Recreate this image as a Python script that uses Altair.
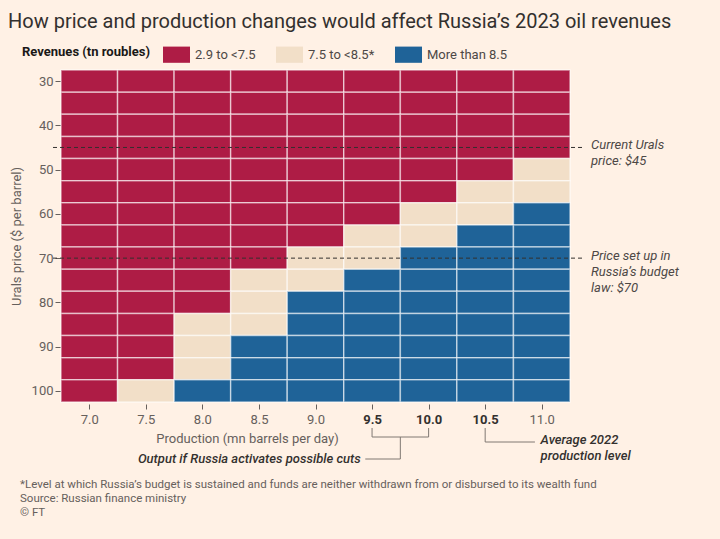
import altair as alt
import pandas as pd

# ---- data ----
productions = [7.0, 7.5, 8.0, 8.5, 9.0, 9.5, 10.0, 10.5, 11.0]
prices = [30, 35, 40, 45, 50, 55, 60, 65, 70, 75, 80, 85, 90, 95, 100]
# one string per price row, one char per production column
# R = 2.9 to <7.5, M = 7.5 to <8.5*, B = More than 8.5
grid = [
    "RRRRRRRRR",  # 30
    "RRRRRRRRR",  # 35
    "RRRRRRRRR",  # 40
    "RRRRRRRRR",  # 45
    "RRRRRRRRM",  # 50
    "RRRRRRRMM",  # 55
    "RRRRRRMMB",  # 60
    "RRRRRMMBB",  # 65
    "RRRRMMBBB",  # 70
    "RRRMMBBBB",  # 75
    "RRRMBBBBB",  # 80
    "RRMMBBBBB",  # 85
    "RRMBBBBBB",  # 90
    "RRMBBBBBB",  # 95
    "RMBBBBBBB",  # 100
]
categories = ["2.9 to <7.5", "7.5 to <8.5*", "More than 8.5"]
code_to_cat = {"R": categories[0], "M": categories[1], "B": categories[2]}
colors = ["#ae1c45", "#f2dfc8", "#1f6398"]

ref_prices = [45, 70]
ref_labels = ["Current Urals\nprice: $45", "Price set up in\nRussia\u2019s budget\nlaw: $70"]

footnotes = [
    "*Level at which Russia\u2019s budget is sustained and funds are neither withdrawn from or disbursed to its wealth fund",
    "Source: Russian finance ministry",
    "\u00a9 FT",
]

W, H = 509, 332
FONT = "Roboto"
GREY = "#66605c"
DARK = "#33302e"

rows = []
for pi, p in enumerate(prices):
    for xi, prod in enumerate(productions):
        rows.append({"production": prod, "price": p, "revenue": code_to_cat[grid[pi][xi]]})
df = pd.DataFrame(rows)

xscale = alt.Scale(domain=[6.75, 11.25], nice=False, zero=False)
yscale = alt.Scale(domain=[27.5, 102.5], nice=False, zero=False, reverse=True)

cells = alt.Chart(df).transform_calculate(
    x1="datum.production - 0.25", x2="datum.production + 0.25",
    y1="datum.price - 2.5", y2="datum.price + 2.5",
).mark_rect(stroke="white", strokeOpacity=0.55, strokeWidth=1.5).encode(
    x=alt.X("x1:Q", scale=xscale, axis=alt.Axis(
        values=productions, format=".1f", tickSize=5, offset=2, labelPadding=4,
        domain=False, grid=False, labelFontSize=13, labelFont=FONT,
        labelColor={"expr": "datum.value >= 9.4 && datum.value <= 10.6 ? '#33302e' : '#66605c'"},
        labelFontWeight={"expr": "datum.value >= 9.4 && datum.value <= 10.6 ? 'bold' : 'normal'"},
        tickColor=GREY, title="Production (mn barrels per day)", titleFont=FONT,
        titleFontSize=13, titleFontWeight="normal", titleColor=GREY,
        titleX=186, titleY=34, titleAlign="center", titleBaseline="middle")),
    x2="x2:Q",
    y=alt.Y("y1:Q", scale=yscale, axis=alt.Axis(
        values=[30, 40, 50, 60, 70, 80, 90, 100], tickSize=6, labelPadding=2,
        domain=False, grid=False, labelFontSize=13, labelFont=FONT, labelColor=GREY,
        tickColor=GREY, title="Urals price ($ per barrel)", titleFont=FONT,
        titleFontSize=13, titleFontWeight="normal", titleColor=GREY, titlePadding=8)),
    y2="y2:Q",
    color=alt.Color("revenue:N", scale=alt.Scale(domain=categories, range=colors),
                    legend=alt.Legend(
                        orient="none", legendX=-39, legendY=-29, direction="horizontal",
                        title="Revenues (tn roubles)", titleOrient="left",
                        titleFont=FONT, titleFontSize=13, titleFontWeight="bold",
                        titleColor="#1a1817", titlePadding=13, titleBaseline="middle",
                        labelFont=FONT, labelFontSize=13, labelColor="#4d4845",
                        labelOffset=5, columnPadding=20,
                        symbolType="M-1,-0.6H1V0.6H-1Z", symbolSize=729,
                        symbolStrokeWidth=0, symbolOpacity=1)),
)

ref_df = pd.DataFrame({"price": ref_prices, "label": ref_labels})
ref_rules = alt.Chart(ref_df).mark_rule(color=DARK, strokeDash=[4, 3], strokeWidth=1).encode(
    y=alt.Y("price:Q", scale=yscale), x=alt.value(-8), x2=alt.value(W + 15))
ref_text = alt.Chart(ref_df).mark_text(
    align="left", baseline="top", dy=-8, lineBreak="\n", lineHeight=16,
    font=FONT, fontSize=13, fontStyle="italic", color="#4d4845").encode(
    y=alt.Y("price:Q", scale=yscale), x=alt.value(W + 21), text="label:N")

# bracket annotations below the x axis (x in production units, y in pixels)
seg_x1 = [9.5, 10.0, 9.5, 9.75, 9.44, 10.5, 10.5]
seg_x2 = [9.5, 10.0, 10.0, 9.75, 9.75, 10.5, 10.94]
seg_y1 = [358, 358, 367, 367, 389, 358, 372]
seg_y2 = [367, 367, 367, 389, 389, 372, 372]
seg_df = pd.DataFrame({"x1": seg_x1, "x2": seg_x2, "y1": seg_y1, "y2": seg_y2})
brackets = alt.Chart(seg_df).mark_rule(color="#807973", strokeWidth=1).encode(
    x=alt.X("x1:Q", scale=xscale), x2="x2:Q",
    y=alt.Y("y1:Q", scale=None), y2="y2:Q")

note_df = pd.DataFrame({
    "x": [9.40, 10.99], "y": [389, 372],
    "text": ["Output if Russia activates possible cuts", "Average 2022\nproduction level"],
    "align": ["right", "left"]})
note_right = alt.Chart(note_df[note_df["align"] == "right"]).mark_text(
    align="right", baseline="middle", font=FONT, fontSize=13, fontStyle="italic",
    fontWeight=500, color=DARK).encode(
    x=alt.X("x:Q", scale=xscale), y=alt.Y("y:Q", scale=None), text="text:N")
note_left = alt.Chart(note_df[note_df["align"] == "left"]).mark_text(
    align="left", baseline="top", dy=-8, lineBreak="\n", lineHeight=16,
    font=FONT, fontSize=13, fontStyle="italic", fontWeight=500, color=DARK).encode(
    x=alt.X("x:Q", scale=xscale), y=alt.Y("y:Q", scale=None), text="text:N")

foot_df = pd.DataFrame({"text": footnotes, "y": [415, 429, 443]})
foot = alt.Chart(foot_df).mark_text(
    align="left", baseline="middle", font=FONT, fontSize=11.5, color=GREY).encode(
    x=alt.value(-41), y=alt.Y("y:Q", scale=None), text="text:N")

chart = alt.layer(cells, ref_rules, ref_text, brackets, note_right, note_left, foot).properties(
    width=W, height=H,
    autosize=alt.AutoSizeParams(type="none"),
    padding={"left": 61, "top": 70, "right": 150, "bottom": 137},
    background="#fff1e5",
    title=alt.TitleParams(
        "How price and production changes would affect Russia\u2019s 2023 oil revenues",
        anchor="start", frame="group", dx=-53, dy=23, offset=12, baseline="bottom",
        font=FONT, fontSize=20, fontWeight="normal", color=DARK),
).configure_view(stroke=None)

chart.save("out.html", embed_options={"renderer": "svg", "actions": False})
